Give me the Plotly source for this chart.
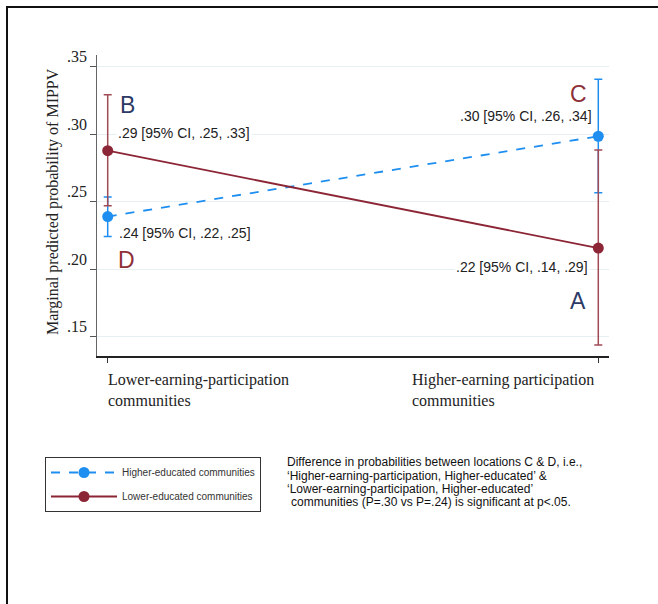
import plotly.graph_objects as go

# ---- data ----
categories = ["Lower-earning-participation<br>communities",
              "Higher-earning participation<br>communities"]
x_pos = [0, 1]
series_names = ["Higher-educated communities", "Lower-educated communities"]
higher_edu = [0.239, 0.2985]
higher_edu_lo = [0.2243, 0.2567]
higher_edu_hi = [0.2535, 0.3408]
lower_edu = [0.2878, 0.2157]
lower_edu_lo = [0.247, 0.1438]
lower_edu_hi = [0.3292, 0.2884]
y_ticks = [0.15, 0.20, 0.25, 0.30, 0.35]
y_tick_labels = [".15", ".20", ".25", ".30", ".35"]
point_labels = [".24 [95% CI, .22, .25]", ".30 [95% CI, .26, .34]",
                ".29 [95% CI, .25, .33]", ".22 [95% CI, .14, .29]"]
letters = ["B", "D", "C", "A"]
note_lines = ["Difference in probabilities between locations C & D, i.e.,",
              "\u2018Higher-earning-participation, Higher-educated\u2019 &",
              "\u2018Lower-earning-participation, Higher-educated\u2019",
              "communities (P=.30 vs P=.24) is significant at p<.05."]

W, H = 658, 604
L, R, T, B = 97, 609, 55, 356  # plot area pixel edges


def px(x):
    return (x - L) / (R - L)


def py(y):
    return (B - y) / (B - T)


BLUE = "#1E8FF0"
MAROON = "#8C2535"
MAROON_BAR = "#A04A55"
NAVY = "#2C3A66"
LETTER_RED = "#8E3038"
SANS = "Liberation Sans, Arial, sans-serif"
SERIF = "Liberation Serif, Times New Roman, serif"

fig = go.Figure()
fig.add_trace(go.Scatter(
    x=x_pos, y=higher_edu, name=series_names[0], mode="lines+markers",
    legendgroup="a",
    line=dict(color=BLUE, width=1.8, dash="dash"),
    marker=dict(color=BLUE, size=11),
    error_y=dict(type="data", symmetric=False,
                 array=[h - v for h, v in zip(higher_edu_hi, higher_edu)],
                 arrayminus=[v - l for l, v in zip(higher_edu_lo, higher_edu)],
                 color=BLUE, thickness=1.5, width=4),
))
fig.add_trace(go.Scatter(
    x=x_pos, y=lower_edu, name=series_names[1], mode="lines+markers",
    legendgroup="b",
    line=dict(color=MAROON, width=1.8),
    marker=dict(color=MAROON, size=11),
    error_y=dict(type="data", symmetric=False,
                 array=[h - v for h, v in zip(lower_edu_hi, lower_edu)],
                 arrayminus=[v - l for l, v in zip(lower_edu_lo, lower_edu)],
                 color=MAROON_BAR, thickness=1.5, width=4),
))

ann = []
# y tick labels (shifted upward like the original)
for v, t in zip(y_ticks, y_tick_labels):
    ann.append(dict(xref="paper", yref="y", x=0, y=v, text=t, showarrow=False,
                    xanchor="right", yanchor="middle", xshift=-8, yshift=10,
                    font=dict(family=SERIF, size=16, color="#222")))
# y title
ann.append(dict(xref="paper", yref="paper", x=px(53), y=py(202),
                text="Marginal predicted probability of MIPPV", textangle=-90,
                showarrow=False, xanchor="center", yanchor="middle",
                font=dict(family=SERIF, size=16, color="#222")))
# x category labels
ann.append(dict(xref="x", yref="paper", x=x_pos[0], y=py(369), text=categories[0],
                showarrow=False, xanchor="left", yanchor="top", align="left",
                xshift=-2, font=dict(family=SERIF, size=16, color="#222")))
ann.append(dict(xref="x", yref="paper", x=x_pos[1], y=py(369), text=categories[1],
                showarrow=False, xanchor="right", yanchor="top", align="left",
                xshift=-2, font=dict(family=SERIF, size=16, color="#222")))
# point labels
lab_font = dict(family=SANS, size=14, color="#222")
ann.append(dict(xref="paper", yref="paper", x=px(117), y=py(233), text=point_labels[0],
                showarrow=False, xanchor="left", yanchor="middle", bgcolor="white",
                font=lab_font))
ann.append(dict(xref="paper", yref="paper", x=px(594), y=py(116), text=point_labels[1],
                showarrow=False, xanchor="right", yanchor="middle", bgcolor="white",
                font=lab_font))
ann.append(dict(xref="paper", yref="paper", x=px(116), y=py(133), text=point_labels[2],
                showarrow=False, xanchor="left", yanchor="middle", bgcolor="white",
                font=lab_font))
ann.append(dict(xref="paper", yref="paper", x=px(590), y=py(267), text=point_labels[3],
                showarrow=False, xanchor="right", yanchor="middle", bgcolor="white",
                font=lab_font))
# letters
letter_pos = [(127.5, 105, NAVY), (126, 260, LETTER_RED), (578, 94, LETTER_RED), (578, 301, NAVY)]
for t, (lx, ly, c) in zip(letters, letter_pos):
    ann.append(dict(xref="paper", yref="paper", x=px(lx), y=py(ly), text=t,
                    showarrow=False, xanchor="center", yanchor="middle",
                    font=dict(family=SANS, size=23, color=c)))
# note text
note_y = [462, 476, 489, 502]
note_x = [285, 285, 285, 289]
for t, nx, ny in zip(note_lines, note_x, note_y):
    ann.append(dict(xref="paper", yref="paper", x=px(nx), y=py(ny), text=t,
                    showarrow=False, xanchor="left", yanchor="middle",
                    font=dict(family=SANS, size=12, color="#111")))

shapes = [
    dict(type="rect", xref="paper", yref="paper", x0=px(7), x1=px(720), y0=py(7), y1=py(700),
         line=dict(color="#111", width=2), fillcolor="rgba(0,0,0,0)", layer="above"),
]

fig.update_layout(
    width=W, height=H,
    margin=dict(l=L, r=W - R, t=T, b=H - B, pad=0),
    paper_bgcolor="white", plot_bgcolor="white",
    annotations=ann, shapes=shapes,
    showlegend=True,
    legend=dict(x=px(45), y=py(457), xanchor="left", yanchor="top",
                bgcolor="white", bordercolor="#333", borderwidth=1,
                font=dict(family=SANS, size=10, color="#333"),
                traceorder="grouped", tracegroupgap=5,
                itemwidth=66, entrywidth=190, entrywidthmode="pixels"),
    xaxis=dict(range=[-0.0218, 1.0218], tickvals=x_pos, showticklabels=False,
               ticks="outside", ticklen=5, tickcolor="#333", showgrid=False,
               zeroline=False, showline=True, linecolor="#222", linewidth=1.5),
    yaxis=dict(range=[0.1357, 0.3587], tickvals=y_ticks, showticklabels=False,
               ticks="outside", ticklen=6, tickcolor="#555", showgrid=True,
               gridcolor="#E6EFF1", gridwidth=1, zeroline=False, showline=True,
               linecolor="#666", linewidth=1),
)

fig.write_html("out.html", config={"displayModeBar": False},
               post_script="document.body.style.margin='0';document.body.style.overflow='hidden';")
